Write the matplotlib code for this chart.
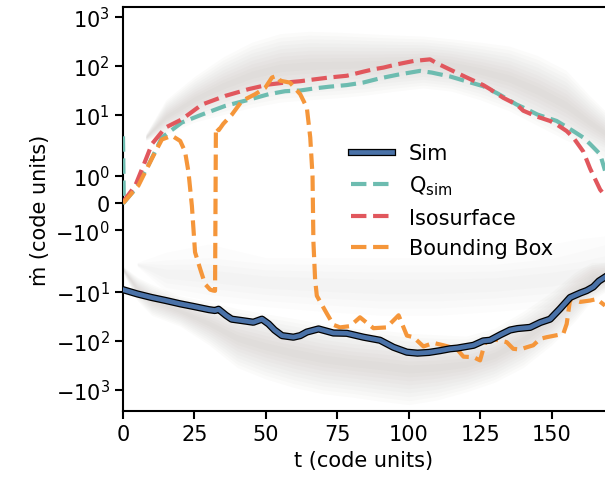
import matplotlib
matplotlib.use("Agg")
import matplotlib.pyplot as plt
import matplotlib.patheffects as pe
import matplotlib.ticker as mticker
import numpy as np

# time axis (code units) and mass flux curves
t_sim = [0, 5, 10, 15, 20, 25, 30, 32.2, 33.4, 36, 38, 41.6, 45.6, 48.6, 50.9, 53,
         55.6, 59.6, 62, 64.3, 68.4, 70.7, 73.6, 78.3, 84.1, 89.9, 94.6, 99.3, 103,
         107, 111, 114.4, 117, 122.6, 126, 128.4, 132, 135.4, 138, 142.4, 146, 149.4,
         152.9, 156.4, 160, 162.2, 164.5, 166.5, 168.6]
mdot_sim = [-9, -11, -13, -15, -17.5, -20, -23, -24, -22.6, -30, -36, -38.5, -41.6,
            -36, -45, -60, -78, -84, -78, -66, -57, -62, -69, -70, -84, -97, -135,
            -170, -178, -172, -158, -145, -140, -123, -100, -97, -75, -60, -56, -53,
            -42, -36, -22, -13, -10.5, -9.4, -7.9, -6, -5]

t_q = [0, 0.3, 4.3, 8.9, 13.6, 20.6, 27.6, 35.7, 43.9, 50.9, 56.7, 62, 66.6, 72,
       78.3, 84, 89.9, 96, 103.9, 108, 111, 114.4, 120, 126, 131, 137.7, 140, 145,
       151.7, 157.5, 161, 163.4, 166.9, 168.6]
mdot_q = [3.6, 0.02, 0.53, 1.4, 3.4, 6.9, 10, 15, 20, 26, 30, 31, 34, 37, 40, 45,
          55, 65, 78, 72, 66, 60, 48, 38, 27, 16, 13.9, 10, 7.4, 4.6, 3.4, 2.5, 1.8, 1.2]

t_iso = [0, 4.3, 7.2, 10.1, 14.8, 20.6, 27.6, 35.7, 43.9, 50.9, 56.7, 62, 66.6, 72,
         78.3, 84, 87.6, 91.1, 95.8, 101.6, 104, 107.4, 110, 114, 120, 126, 128.4,
         133, 137.7, 140, 145, 149.4, 151.7, 155.2, 157.5, 161, 163.4, 166.9, 168.6]
mdot_iso = [0.04, 0.65, 1.4, 2.5, 5.4, 8, 16, 24, 33, 41, 45, 48, 52, 57, 62, 75, 84,
            91, 106, 124, 128, 134, 110, 85, 58, 40, 33, 22, 16, 12, 9, 7.4, 6.3, 4.6,
            3.4, 1.9, 1.27, 0.5, 0.28]

t_bb = [0, 5.4, 10.1, 13.6, 17.1, 20, 21.7, 22.9, 24.1, 25.2, 27, 28.7, 30.5, 31.6,
        32.2, 32.5, 33.5, 35.1, 38.1, 41.6, 46.2, 49.7, 52.1, 53.8, 55, 58.4, 62,
        64.3, 65.5, 66.3, 66.6, 67.2, 67.8, 69, 71.2, 73.6, 75.9, 79.4, 82.9, 87.6,
        92.3, 93.4, 96.4, 99.3, 101.6, 105.1, 108.6, 112.1, 116.7, 119.1, 122.6,
        124.9, 126.6, 129.6, 134.2, 136.5, 138.9, 141.2, 143.5, 145.9, 148.2, 151,
        154, 155.2, 156.4, 159.9, 163.4, 165.7, 168.6]
mdot_bb = [0, 0.65, 1.64, 3.1, 3.7, 2.9, 1.9, 1.15, -0.1, -1.8, -3.4, -6.9, -9, -9.4,
           -9.5, 5.5, 4.8, 6.5, 10, 19, 26, 35, 57, 62, 49, 45, 26, 13.9, 3.4, 1.0,
           -1.4, -5.6, -12, -16, -27, -47, -53, -50, -33, -55, -53, -45, -30, -78,
           -84, -130, -110, -123, -145, -210, -215, -250, -110, -92, -106, -145,
           -150, -135, -123, -91, -84, -78, -72, -45, -14, -16, -15, -14, -19]

# envelopes of the per-cell flux cloud (outflow and inflow)
t_out = [8, 15, 25, 35, 45, 55, 65, 75, 85, 95, 105, 115, 125, 135, 145, 155, 163, 168.6]
out_hi = [4, 20, 60, 150, 300, 450, 500, 480, 450, 420, 400, 350, 300, 250, 160, 80, 25, 12]
out_lo = [3, 4, 7, 10, 14, 18, 20, 22, 25, 30, 35, 30, 20, 12, 6, 3, 2, 1.5]

t_in = [0, 5, 10, 20, 30, 40, 50, 60, 70, 80, 90, 100, 110, 120, 130, 140, 150, 158, 164, 168.6]
in_hi = [-3, -5, -7, -12, -16, -22, -28, -35, -45, -55, -60, -70, -75, -80, -55, -25, -10, -4, -2.5, -2.5]
in_lo = [-4, -15, -30, -50, -120, -350, -600, -900, -1200, -1400, -1700, -2000, -1600, -1100, -700, -350, -120, -40, -15, -10]

t_haze = [5, 15, 30, 50, 70, 90, 110, 130, 150, 160, 168.6]
haze_hi = [-2.5, -1.8, -1.5, -2, -2, -2, -2, -2, -1.5, -1.3, -1.2]
haze_lo = [-3, -10, -15, -20, -25, -30, -30, -25, -20, -15, -8]

labels = ["Sim", r"Q$_{\mathrm{sim}}$", "Isosurface", "Bounding Box"]
colors = ["#4a72a8", "#6dbcb0", "#e1575d", "#f5963a"]

plt.rcParams["font.family"] = "DejaVu Sans"
plt.rcParams["font.size"] = 15
plt.rcParams["mathtext.default"] = "regular"

fig = plt.figure(figsize=(6.05, 4.85), dpi=100)
ax = fig.add_axes([0.2033, 0.1505, 0.7967, 0.833])


def cloud(ts, lo, hi, sign, layers=9, alpha=0.035, color="#9a908c"):
    # stack shrinking bands (in log space) so the middle looks denser
    lo = np.abs(np.asarray(lo, float))
    hi = np.abs(np.asarray(hi, float))
    mid = np.sqrt(lo * hi)
    for k in range(layers):
        f = 1.0 - k / layers
        a = mid * (lo / mid) ** f
        b = mid * (hi / mid) ** f
        ax.fill_between(ts, sign * a, sign * b, color=color, alpha=alpha,
                        lw=0, zorder=1)


cloud(t_out, out_lo, out_hi, 1)
cloud(t_in, in_lo, in_hi, -1)
cloud(t_haze, haze_lo, haze_hi, -1, layers=4, alpha=0.025)

ax.plot(t_sim, mdot_sim, color=colors[0], lw=3.4, label=labels[0], zorder=5,
        path_effects=[pe.Stroke(linewidth=5.2, foreground="black"), pe.Normal()])
ax.plot(t_q, mdot_q, color=colors[1], lw=3, ls="--", label=labels[1], zorder=4)
ax.plot(t_iso, mdot_iso, color=colors[2], lw=3, ls="--", label=labels[2], zorder=4)
ax.plot(t_bb, mdot_bb, color=colors[3], lw=3, ls="--", label=labels[3], zorder=4)

ax.set_yscale("symlog", linthresh=2, linscale=1)
ax.set_yticks([-1000, -100, -10, -1, 0, 1, 10, 100, 1000])
ax.yaxis.set_minor_locator(mticker.NullLocator())
ax.set_ylim(-2700, 1570)
ax.set_xlim(0, 168.6)
ax.set_xticks([0, 25, 50, 75, 100, 125, 150])

ax.set_xlabel("t (code units)")
ax.set_ylabel("ṁ (code units)")

for s in ["left", "bottom", "top"]:
    ax.spines[s].set_linewidth(1.5)
ax.spines["right"].set_visible(False)
ax.tick_params(width=1.5, length=6)

leg = ax.legend(loc="center left", bbox_to_anchor=(0.455, 0.521), frameon=False,
                borderaxespad=0, handlelength=2.0)

fig.savefig("out.png", dpi=100)
